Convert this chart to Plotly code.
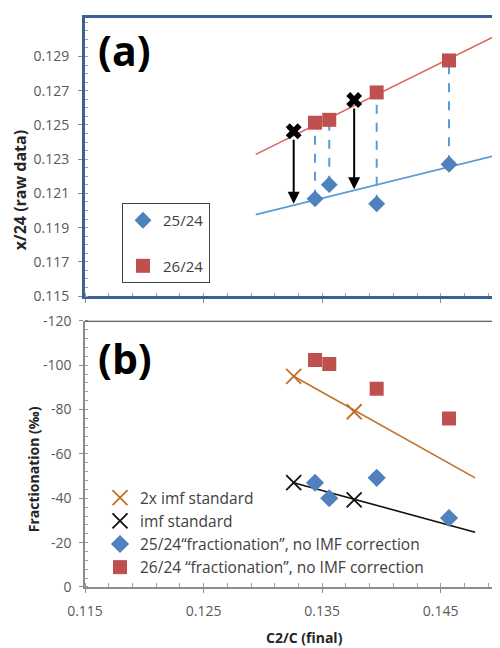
import plotly.graph_objects as go

# ---------------- data ----------------
c2c = [0.1344, 0.1356, 0.1396, 0.1457]
r25_raw = [0.12068, 0.12151, 0.12039, 0.12270]
r26_raw = [0.12513, 0.12530, 0.12690, 0.12877]
std_c2c = [0.1326, 0.1377]
std26_raw = [0.12463, 0.12646]
std_arrow_end = [0.12039, 0.12124]
fit_x_a = [0.1294, 0.1500]
fit26_a = [0.12328, 0.13033]
fit25_a = [0.11976, 0.12328]

frac25 = [-47.0, -40.0, -49.2, -31.1]
frac26 = [-102.3, -100.5, -89.4, -76.0]
imf_std = [-47.0, -39.3]
imf2_std = [-95.0, -79.0]
fit_x_b = [0.1326, 0.1479]
fit_imf = [-47.0, -24.7]
fit_imf2 = [-95.0, -49.2]

a_yticks = [0.115, 0.117, 0.119, 0.121, 0.123, 0.125, 0.127, 0.129]
b_yticks = [0, -20, -40, -60, -80, -100, -120]
x_ticks = [0.115, 0.125, 0.135, 0.145]

# ---------------- style ----------------
BLUE = "#4F81BD"
RED = "#C0504D"
LBLUE = "#5B9BD5"
LRED = "#E0625E"
ORANGE = "#C0702A"
FRAME = "#3B6196"
TICKC = "#595959"
FONT = "Open Sans"

OFF = 8  # default page body margin
W, H = 500 - OFF, 648 - OFF
L, R = 85 - OFF, 0
T = 12 - OFF
B = H - (587 - OFF)
PW, PH = W - L - R, H - T - B


def px_x(p):
    return (p - OFF - L) / PW


def px_y(p):
    return (H - B - (p - OFF)) / PH


fig = go.Figure()

# ---- panel (a) ----
fig.add_trace(go.Scatter(x=fit_x_a, y=fit26_a, mode="lines", line=dict(color=LRED, width=1.6),
                         showlegend=False, xaxis="x", yaxis="y", hoverinfo="skip"))
fig.add_trace(go.Scatter(x=fit_x_a, y=fit25_a, mode="lines", line=dict(color=LBLUE, width=1.6),
                         showlegend=False, xaxis="x", yaxis="y", hoverinfo="skip"))
dx, dy = [], []
for xv, y1, y2 in zip(c2c, r25_raw, r26_raw):
    dx += [xv, xv, None]
    dy += [y1, y2, None]
fig.add_trace(go.Scatter(x=dx, y=dy, mode="lines", line=dict(color=LBLUE, width=2, dash="dash"),
                         showlegend=False, xaxis="x", yaxis="y", hoverinfo="skip"))
fig.add_trace(go.Scatter(x=c2c, y=r25_raw, mode="markers", name="25/24",
                         marker=dict(symbol="diamond", size=13, color=BLUE),
                         xaxis="x", yaxis="y", legend="legend", legendgroup="a1"))
fig.add_trace(go.Scatter(x=c2c, y=r26_raw, mode="markers", name="26/24",
                         marker=dict(symbol="square", size=14, color=RED),
                         xaxis="x", yaxis="y", legend="legend", legendgroup="a2"))
fig.add_trace(go.Scatter(x=std_c2c, y=std26_raw, mode="markers", showlegend=False,
                         marker=dict(symbol="x", size=14, color="black"),
                         xaxis="x", yaxis="y"))

# ---- panel (b) ----
fig.add_trace(go.Scatter(x=fit_x_b, y=fit_imf2, mode="lines", line=dict(color=ORANGE, width=1.6),
                         showlegend=False, xaxis="x2", yaxis="y2", hoverinfo="skip"))
fig.add_trace(go.Scatter(x=fit_x_b, y=fit_imf, mode="lines", line=dict(color="#111111", width=1.6),
                         showlegend=False, xaxis="x2", yaxis="y2", hoverinfo="skip"))
fig.add_trace(go.Scatter(x=std_c2c, y=imf2_std, mode="markers", name="2x imf standard",
                         marker=dict(symbol="x-thin-open", size=15, color=ORANGE,
                                     line=dict(color=ORANGE, width=1.8)),
                         xaxis="x2", yaxis="y2", legend="legend2", legendgroup="b1"))
fig.add_trace(go.Scatter(x=std_c2c, y=imf_std, mode="markers", name="imf standard",
                         marker=dict(symbol="x-thin-open", size=15, color="#111111",
                                     line=dict(color="#111111", width=1.8)),
                         xaxis="x2", yaxis="y2", legend="legend2", legendgroup="b2"))
fig.add_trace(go.Scatter(x=c2c, y=frac25, mode="markers",
                         name="25/24\u201cfractionation\u201d, no IMF correction",
                         marker=dict(symbol="diamond", size=14, color=BLUE),
                         xaxis="x2", yaxis="y2", legend="legend2", legendgroup="b3"))
fig.add_trace(go.Scatter(x=c2c, y=frac26, mode="markers",
                         name="26/24 \u201cfractionation\u201d, no IMF correction",
                         marker=dict(symbol="square", size=14, color=RED),
                         xaxis="x2", yaxis="y2", legend="legend2", legendgroup="b4"))

annotations = []
for xs, ys, ye in zip(std_c2c, std26_raw, std_arrow_end):
    annotations.append(dict(x=xs, y=ye, ax=xs, ay=ys, xref="x", yref="y", axref="x", ayref="y",
                            text="", showarrow=True, arrowhead=2, arrowsize=1.2, arrowwidth=2,
                            arrowcolor="black", startstandoff=7))


def label(text, cx, cy, size, angle=0, color="#262626"):
    return dict(text=text, x=px_x(cx), y=px_y(cy), xref="paper", yref="paper", showarrow=False,
                xanchor="center", yanchor="middle", textangle=angle,
                font=dict(family=FONT, size=size, color=color))


annotations += [
    label("<b>(a)</b>", 124, 44, 41, color="black"),
    label("<b>(b)</b>", 125, 356, 41, color="black"),
    label("<b>x/24 (raw data)</b>", 20, 186, 16, angle=-90),
    label("<b>Fractionation (\u2030)</b>", 33, 468, 14, angle=-90),
    label("<b>C2/C (final)</b>", 304, 638, 14),
]

dom_a = [px_y(293), 1.0]
dom_b = [0.0, px_y(318)]

fig.update_layout(
    width=W, height=H,
    margin=dict(l=L, r=R, t=T, b=B),
    paper_bgcolor="white", plot_bgcolor="white",
    font=dict(family=FONT, color=TICKC),
    xaxis=dict(domain=[0, 1], anchor="y", range=[0.115, 0.150], showticklabels=False,
               showgrid=False, zeroline=False, showline=True, linecolor=FRAME, linewidth=3,
               mirror=True, ticks="outside", ticklen=4, tickcolor="#8c8c8c",
               tickvals=x_ticks,
               minor=dict(dtick=0.002, tick0=0.115, ticks="inside", ticklen=3, tickcolor="#a0a0a0")),
    yaxis=dict(domain=dom_a, anchor="x", range=[0.115, 0.13125], tickvals=a_yticks,
               ticktext=["%.3f" % v for v in a_yticks], showgrid=False, zeroline=False,
               showline=True, linecolor=FRAME, linewidth=3, ticks="outside", ticklen=4,
               tickcolor="#8c8c8c", tickfont=dict(size=14, color=TICKC), ticklabelstandoff=6,
               minor=dict(dtick=0.0005, tick0=0.115, ticks="inside", ticklen=3, tickcolor="#a0a0a0")),
    xaxis2=dict(domain=[0, 1], anchor="y2", range=[0.115, 0.150], tickvals=x_ticks,
                ticktext=["%.3f" % v for v in x_ticks], showgrid=False, zeroline=False,
                showline=True, linecolor="#8c8c8c", linewidth=1.5, ticks="outside", ticklen=4,
                tickcolor="#8c8c8c", tickfont=dict(size=14, color=TICKC), ticklabelstandoff=6,
                minor=dict(dtick=0.002, tick0=0.115, ticks="inside", ticklen=4, tickcolor="#a0a0a0")),
    yaxis2=dict(domain=dom_b, anchor="x2", range=[0, -120], tickvals=b_yticks,
                ticktext=[str(v) for v in b_yticks], showgrid=False, zeroline=False,
                showline=True, linecolor="#8c8c8c", linewidth=1.5, ticks="outside", ticklen=4,
                tickcolor="#8c8c8c", tickfont=dict(size=14, color=TICKC), ticklabelstandoff=5,
                minor=dict(dtick=4, tick0=0, ticks="inside", ticklen=3, tickcolor="#a0a0a0")),
    legend=dict(x=px_x(122), y=px_y(199), xanchor="left", yanchor="top",
                bordercolor="#404040", borderwidth=1, bgcolor="white",
                font=dict(family=FONT, size=15, color="#404040"),
                traceorder="grouped", tracegroupgap=23, itemwidth=30),
    legend2=dict(x=px_x(100), y=px_y(480), xanchor="left", yanchor="top",
                 bgcolor="rgba(0,0,0,0)", borderwidth=0,
                 font=dict(family=FONT, size=15.5, color="#404040"),
                 traceorder="grouped", tracegroupgap=0, itemwidth=30),
    shapes=[dict(type="line", xref="x2 domain", yref="y2", x0=0, x1=1, y0=-120, y1=-120,
                 line=dict(color="#333333", width=2))],
    annotations=annotations,
)

fig.write_html("out.html")
